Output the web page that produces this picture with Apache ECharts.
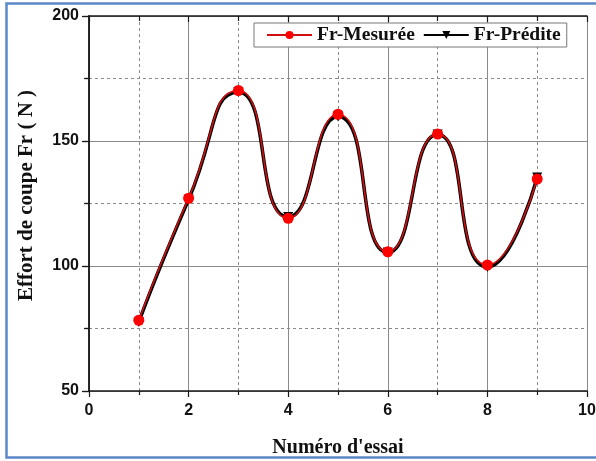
<!DOCTYPE html>
<html>
<head>
<meta charset="utf-8">
<script src="https://cdn.jsdelivr.net/npm/echarts@6/dist/echarts.min.js"></script>
<style>
  html, body { margin: 0; padding: 0; background: #ffffff; }
  #chart { width: 596px; height: 461px; }
</style>
</head>
<body>
<div id="chart"></div>
<script>
// Essai numbers and cutting force Fr (N)
const essais = [1, 2, 3, 4, 5, 6, 7, 8, 9];
const frMesuree = [78.3, 127.1, 170.2, 119.1, 160.7, 105.7, 152.8, 100.4, 134.8];
const frPredite = [77.6, 126.6, 169.6, 119.6, 159.8, 105.4, 152.6, 99.6, 135.4];
const seriesNames = ['Fr-Mesurée', 'Fr-Prédite'];
const xTitle = "Numéro d'essai";
const yTitle = 'Effort de coupe Fr ( N )';

const pairs = (xs, ys) => xs.map((x, i) => [x, ys[i]]);

const serif = '"Liberation Serif", "DejaVu Serif", serif';
const sans = '"Liberation Sans", Arial, sans-serif';
const axisColor = '#1a1a1a';
const curveSmooth = 0.6;

const chart = echarts.init(document.getElementById('chart'), null, { renderer: 'canvas' });

const mirrorAxis = (pos, min, max, interval) => ({
  type: 'value', position: pos, min: min, max: max, interval: interval,
  axisLine: { show: true, lineStyle: { color: axisColor, width: 1.5 } },
  axisTick: { show: true, inside: true, length: 6, lineStyle: { color: axisColor, width: 1.2 } },
  minorTick: { show: true, splitNumber: 2, length: 5, lineStyle: { color: axisColor, width: 1.2 } },
  axisLabel: { show: false },
  splitLine: { show: false }
});

chart.setOption({
  backgroundColor: '#ffffff',
  animation: false,
  graphic: [{
    type: 'rect',
    shape: { x: 6.5, y: 3.5, width: 600, height: 454 },
    style: { fill: 'none', stroke: '#5a88c8', lineWidth: 2.5 },
    z: 100
  }],
  grid: { left: 89, right: 9, top: 16, bottom: 70, containLabel: false, outerBoundsMode: 'none' },
  legend: {
    data: seriesNames,
    left: 254, top: 23,
    padding: [2, 6, 2, 12],
    itemGap: 8,
    itemWidth: 45, itemHeight: 10,
    backgroundColor: '#ffffff',
    borderColor: '#777777', borderWidth: 1,
    textStyle: { fontFamily: serif, fontWeight: 'bold', fontSize: 19.5, color: '#111' }
  },
  xAxis: [{
    type: 'value', position: 'bottom', min: 0, max: 10, interval: 2,
    name: xTitle, nameLocation: 'middle', nameGap: 47,
    nameTextStyle: { fontFamily: serif, fontWeight: 'bold', fontSize: 20, color: '#111' },
    axisLine: { show: true, onZero: false, lineStyle: { color: axisColor, width: 1.5 } },
    axisTick: { show: true, length: 6, lineStyle: { color: axisColor, width: 1.2 } },
    minorTick: { show: true, splitNumber: 2, length: 4, lineStyle: { color: axisColor, width: 1.2 } },
    axisLabel: { margin: 12, fontFamily: sans, fontWeight: 'bold', fontSize: 16, color: '#111' },
    splitLine: { show: true, lineStyle: { color: '#8a8a8a', width: 1 } },
    minorSplitLine: { show: true, lineStyle: { color: '#8a8a8a', width: 1, type: [3, 3] } }
  }, mirrorAxis('top', 0, 10, 2)],
  yAxis: [{
    type: 'value', position: 'left', min: 50, max: 200, interval: 50,
    name: yTitle, nameLocation: 'middle', nameGap: 52,
    nameTextStyle: { fontFamily: serif, fontWeight: 'bold', fontSize: 21, color: '#111', padding: [0, 0, 0, 16] },
    axisLine: { show: true, onZero: false, lineStyle: { color: axisColor, width: 1.5 } },
    axisTick: { show: true, length: 7, lineStyle: { color: axisColor, width: 1.2 } },
    minorTick: { show: true, splitNumber: 2, length: 4, lineStyle: { color: axisColor, width: 1.2 } },
    axisLabel: { margin: 10, fontFamily: sans, fontWeight: 'bold', fontSize: 16, color: '#111' },
    splitLine: { show: true, lineStyle: { color: '#8a8a8a', width: 1 } },
    minorSplitLine: { show: true, lineStyle: { color: '#8a8a8a', width: 1, type: [3, 3] } }
  }, mirrorAxis('right', 50, 200, 50)],
  series: [{
    name: seriesNames[1],
    type: 'line',
    data: pairs(essais, frPredite),
    smooth: curveSmooth,
    symbol: 'triangle', symbolRotate: 180, symbolSize: 10,
    lineStyle: { color: '#000000', width: 3.5 },
    itemStyle: { color: '#000000' },
    z: 2
  }, {
    name: seriesNames[0],
    type: 'line',
    data: pairs(essais, frMesuree),
    smooth: curveSmooth,
    symbol: 'circle', symbolSize: 11,
    lineStyle: { color: '#d01010', width: 1.6 },
    itemStyle: { color: '#ff0000' },
    z: 3
  }]
});
</script>
</body>
</html>
